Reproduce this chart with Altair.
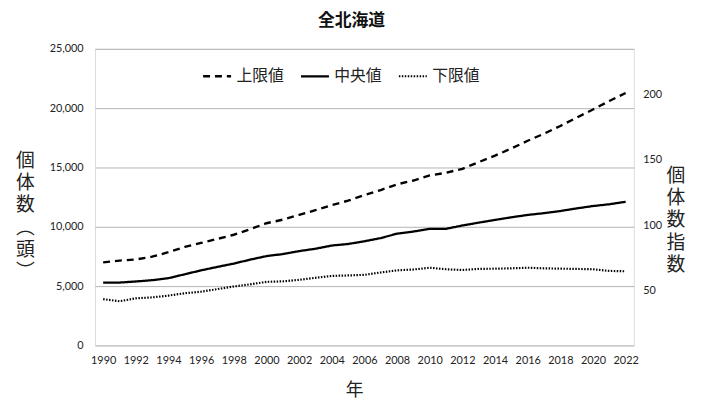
import altair as alt
import pandas as pd

years = list(range(1990, 2023))
upper = [7000, 7150, 7250, 7480, 7860, 8300, 8640, 8980, 9330, 9800, 10300,
         10600, 11000, 11400, 11830, 12200, 12670, 13100, 13580, 13900, 14330,
         14550, 14890, 15450, 16000, 16600, 17250, 17850, 18500, 19200, 19890,
         20600, 21280]
median = [5300, 5300, 5390, 5500, 5670, 6000, 6330, 6620, 6900, 7230, 7530,
          7700, 7950, 8150, 8420, 8550, 8780, 9050, 9420, 9600, 9830,
          9830, 10110, 10350, 10580, 10800, 11000, 11150, 11330, 11550, 11750,
          11900, 12110]
lower = [3900, 3725, 3970, 4050, 4200, 4400, 4530, 4750, 4970, 5150, 5360,
         5400, 5530, 5700, 5860, 5900, 5950, 6150, 6330, 6400, 6550,
         6420, 6360, 6450, 6470, 6500, 6550, 6500, 6470, 6450, 6420,
         6280, 6250]
series_names = ["上限値", "中央値", "下限値"]
year_ticks = list(range(1990, 2023, 2))
index_ticks = [50, 100, 150, 200]

rows = []
for name, vals in zip(series_names, [upper, median, lower]):
    for y, v in zip(years, vals):
        rows.append({"年": y, "値": v, "系列": name})
df = pd.DataFrame(rows)
idx_df = pd.DataFrame({"指数": index_ticks})

CJK = "Noto Sans CJK JP"
NUM = "Lato"

lines = alt.Chart(df).mark_line(color="black").encode(
    x=alt.X("年:Q",
            scale=alt.Scale(domain=[1989.5, 2022.5], nice=False, zero=False),
            axis=alt.Axis(values=year_ticks, format="d", grid=False, ticks=False,
                          domain=False, labelFont=NUM, labelFontSize=11,
                          labelColor="#222", labelPadding=9, labelFlush=False,
                          title="年", titleFont=CJK, titleFontSize=18,
                          titleFontWeight="normal", titleColor="#222",
                          titleX=262, titleY=46, titleBaseline="middle",
                          titleAlign="center")),
    y=alt.Y("値:Q",
            scale=alt.Scale(domain=[0, 25000], nice=False),
            axis=alt.Axis(values=[0, 5000, 10000, 15000, 20000, 25000],
                          format=",.0f", grid=True, gridColor="#b3b3b3",
                          gridWidth=1, ticks=False, domain=False,
                          labelFont=NUM, labelFontSize=11, labelColor="#222",
                          labelPadding=12,
                          title=["個", "体", "数", "︵", "頭", "︶"],
                          titleFont=CJK, titleFontSize=19,
                          titleFontWeight="normal", titleColor="#222",
                          titleAngle=0, titleLineHeight=22.5,
                          titleX=-71, titleY=113, titleAlign="center",
                          titleBaseline="middle")),
    strokeDash=alt.StrokeDash(
        "系列:N",
        scale=alt.Scale(domain=series_names,
                        range=[[7, 5], [1, 0], [1.5, 1.5]]),
        sort=series_names,
        legend=alt.Legend(title=None, orient="none", direction="horizontal",
                          legendX=108, legendY=12, symbolType="stroke",
                          symbolSize=800, symbolStrokeWidth=2,
                          symbolStrokeColor="black", labelFont=CJK,
                          labelFontSize=16, labelColor="#222",
                          labelOffset=4, columnPadding=11)),
    strokeWidth=alt.StrokeWidth(
        "系列:N",
        scale=alt.Scale(domain=series_names, range=[2.4, 2.2, 2.0]),
        legend=None),
)

right = alt.Chart(idx_df).mark_point(opacity=0).encode(
    x=alt.value(0),
    y=alt.Y("指数:Q",
            scale=alt.Scale(domain=[8.5, 234.6], nice=False, zero=False),
            axis=alt.Axis(orient="right", values=index_ticks, grid=False,
                          ticks=False, domain=False, labelFont=NUM,
                          labelFontSize=11, labelColor="#222",
                          labelPadding=9,
                          title=["個", "体", "数", "指", "数"],
                          titleFont=CJK, titleFontSize=19,
                          titleFontWeight="normal", titleColor="#222",
                          titleAngle=0, titleLineHeight=22.5,
                          titleX=42, titleY=128, titleAlign="center",
                          titleBaseline="middle")),
)

chart = alt.layer(lines, right).resolve_scale(y="independent").properties(
    width=545,
    height=300,
    autosize=alt.AutoSizeParams(type="none"),
    padding={"left": 88, "top": 39, "right": 71, "bottom": 63},
    title=alt.TitleParams("全北海道", font=CJK, fontSize=17, fontWeight="bold",
                          color="#111", anchor="middle", offset=13, dx=-13),
).configure_view(stroke="#a6a6a6", strokeWidth=1).configure(background="white")

chart.save("out.html", embed_options={"renderer": "svg", "actions": False})
